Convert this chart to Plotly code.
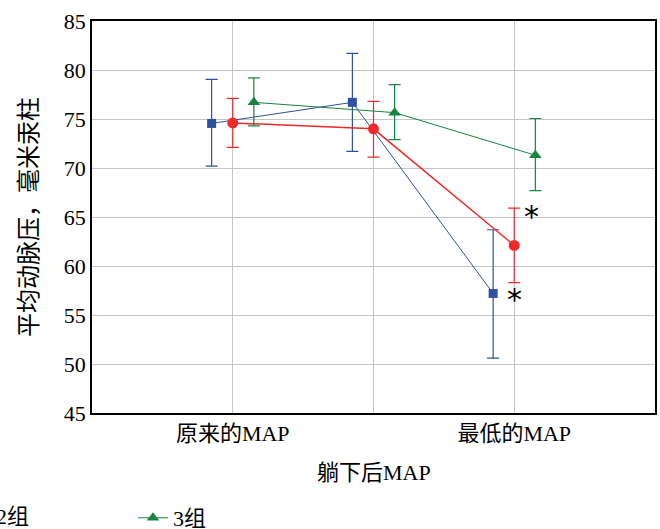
import plotly.graph_objects as go

categories = ["原来的MAP", "躺下后MAP", "最低的MAP"]
groups = ["1组", "2组", "3组"]

g1_mean = [74.55, 76.7, 57.2]
g1_upper = [79.05, 81.7, 63.7]
g1_lower = [70.2, 71.7, 50.6]

g2_mean = [74.6, 74.0, 62.1]
g2_upper = [77.1, 76.8, 65.9]
g2_lower = [72.1, 71.1, 58.3]

g3_mean = [76.7, 75.65, 71.3]
g3_upper = [79.2, 78.5, 75.05]
g3_lower = [74.3, 72.9, 67.7]

yticks = [45, 50, 55, 60, 65, 70, 75, 80, 85]

series = [
    (groups[0], g1_mean, g1_upper, g1_lower, -0.15, "#2f4fa2", "square", 9, 1, False),
    (groups[1], g2_mean, g2_upper, g2_lower, 0.0, "#ee2a2a", "circle", 11, 1.5, False),
    (groups[2], g3_mean, g3_upper, g3_lower, 0.15, "#17843f", "triangle-up", 11, 1, True),
]

FONT = "Liberation Serif, Noto Sans CJK SC, serif"

fig = go.Figure()
xpos = [i + 1 for i in range(len(categories))]
for name, m, up, lo, off, col, sym, ms, lw, inleg in series:
    fig.add_trace(go.Scatter(
        x=[p + off for p in xpos], y=m, name=name, mode="lines+markers",
        showlegend=inleg,
        line=dict(color=col, width=lw),
        marker=dict(symbol=sym, size=ms, color=col),
        error_y=dict(type="data", symmetric=False,
                     array=[u - v for u, v in zip(up, m)],
                     arrayminus=[v - l for v, l in zip(m, lo)],
                     color=col, thickness=1.2, width=6),
    ))

# significance markers
star_font = dict(family="DejaVu Sans", size=30, color="black")
fig.add_annotation(x=3.12, y=65.6, text="*", showarrow=False, font=star_font,
                   xanchor="center", yanchor="middle", yshift=-5)
fig.add_annotation(x=3.0, y=57.1, text="*", showarrow=False, font=star_font,
                   xanchor="center", yanchor="middle", yshift=-5)

# staggered middle category label
fig.add_annotation(x=2, y=0, xref="x", yref="paper", text=categories[1],
                   showarrow=False, yanchor="top", yshift=-45,
                   font=dict(family=FONT, size=22, color="black"))

# clipped legend entry text (the rest of the legend lies beyond the left edge)
fig.add_annotation(x=-0.108, y=-0.2653, xref="paper", yref="paper", text=groups[1],
                   showarrow=False, xanchor="right", yanchor="middle",
                   font=dict(family=FONT, size=22, color="black"))

fig.update_layout(
    width=660, height=529,
    margin=dict(l=92, r=5, t=21, b=116, autoexpand=False),
    paper_bgcolor="white", plot_bgcolor="white",
    font=dict(family=FONT, size=22, color="black"),
    showlegend=True,
    legend=dict(orientation="h", xref="container", yref="container",
                x=133 / 660, xanchor="left", y=1 - 518 / 529, yanchor="middle",
                font=dict(size=22), bgcolor="rgba(0,0,0,0)"),
    xaxis=dict(range=[0, 4], tickvals=xpos, ticktext=[categories[0], "", categories[2]],
               showgrid=True, gridcolor="#c4c4c4", gridwidth=1,
               showline=True, linecolor="black", linewidth=1.5, mirror=True,
               ticks="", zeroline=False),
    yaxis=dict(range=[45, 85], tickvals=yticks,
               showgrid=True, gridcolor="#c4c4c4", gridwidth=1,
               showline=True, linecolor="black", linewidth=1.5, mirror=True,
               ticks="", zeroline=False,
               title=dict(text="平均动脉压，毫米汞柱", font=dict(size=24), standoff=19)),
)

post = ("document.body.style.margin='0';document.body.style.overflow='hidden';"
        "var gd=document.getElementById('{plot_id}');"
        "Plotly.relayout(gd,{width:660,height:529});")

fig.write_html("out.html", config={"responsive": False, "displayModeBar": False},
               post_script=post)
